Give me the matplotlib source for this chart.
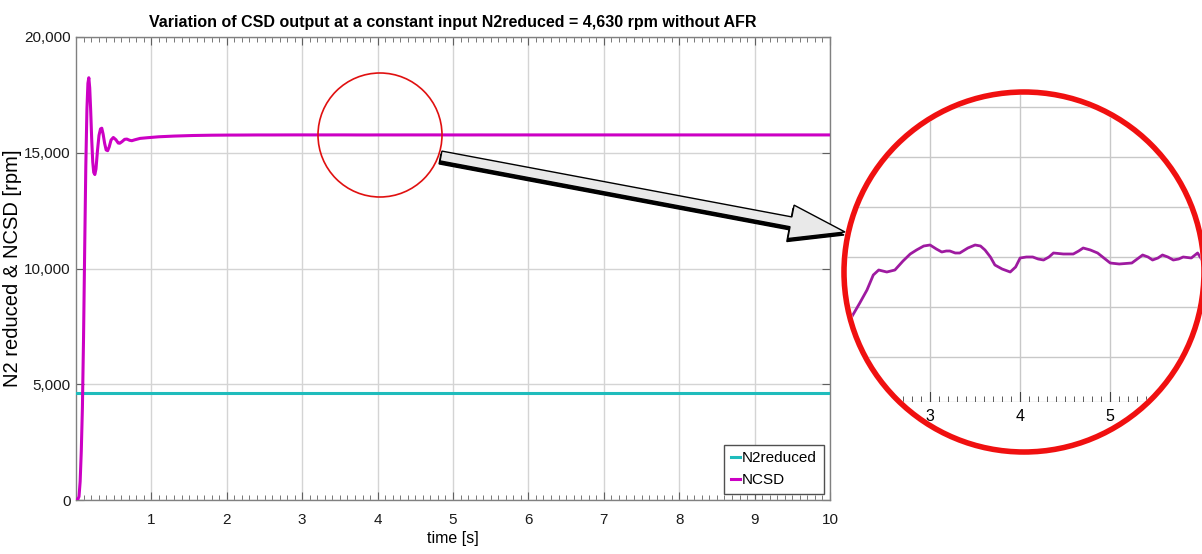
import numpy as np
import matplotlib
matplotlib.use("Agg")
import matplotlib.pyplot as plt
from matplotlib.patches import Ellipse, FancyArrow
from matplotlib.ticker import MultipleLocator, FuncFormatter

# N2reduced input (constant)
n2_time = [0.0, 10.0]
n2_rpm = [4630, 4630]

# NCSD response
ncsd_time = [0.00, 0.02, 0.04, 0.055, 0.07, 0.085, 0.10, 0.115, 0.13, 0.145,
             0.158, 0.170, 0.182, 0.195, 0.208, 0.222, 0.235, 0.250, 0.265, 0.285,
             0.305, 0.325, 0.342, 0.36, 0.38, 0.40, 0.42, 0.44, 0.465, 0.495,
             0.53, 0.56, 0.58, 0.61, 0.645, 0.675, 0.71, 0.74, 0.78, 0.85,
             0.95, 1.10, 1.30, 1.55, 1.80, 2.05,
             2.13, 2.22, 2.30, 2.37, 2.43, 2.52, 2.61, 2.70, 2.78, 2.85, 2.93, 3.00,
             3.07, 3.13, 3.18, 3.22, 3.28, 3.33, 3.42, 3.50, 3.56, 3.61, 3.67, 3.72,
             3.80, 3.89, 3.95, 4.00, 4.07, 4.14, 4.20, 4.26, 4.32, 4.37, 4.48, 4.59,
             4.65, 4.70, 4.78, 4.86, 4.93, 5.00, 5.10, 5.24, 5.30, 5.36, 5.42, 5.47,
             5.53, 5.58, 5.64, 5.70, 5.76, 5.81, 5.90, 5.97, 6.02,
             6.5, 7.0, 8.0, 9.0, 10.0]
ncsd_rpm = [0, 0, 150, 800, 2100, 4000, 7000, 10800, 14400, 16900,
            18000, 18240, 17800, 16800, 15600, 14600, 14150, 14060, 14300, 15100,
            15750, 16030, 16060, 15800, 15400, 15120, 15090, 15250, 15550, 15660,
            15560, 15420, 15410, 15480, 15580, 15590, 15540, 15520, 15560, 15620,
            15650, 15690, 15720, 15745, 15758, 15764,
            15764.0, 15765.4, 15766.7, 15768.2, 15768.7, 15768.5, 15768.7, 15769.6, 15770.3, 15770.7, 15771.1, 15771.2,
            15770.8, 15770.5, 15770.6, 15770.6, 15770.4, 15770.4, 15770.9, 15771.2, 15771.1, 15770.7, 15770.0, 15769.2,
            15768.8, 15768.5, 15769.0, 15769.9, 15770.0, 15770.0, 15769.8, 15769.7, 15770.0, 15770.4, 15770.3, 15770.3,
            15770.6, 15770.9, 15770.7, 15770.4, 15769.9, 15769.4, 15769.3, 15769.4, 15769.8, 15770.2, 15770.0, 15769.7,
            15769.9, 15770.2, 15770.0, 15769.7, 15769.8, 15770.0, 15769.9, 15770.4, 15769.7,
            15770.0, 15770.2, 15769.8, 15770.0, 15770.0]

x_ticks = [1, 2, 3, 4, 5, 6, 7, 8, 9, 10]
y_ticks = [0, 5000, 10000, 15000, 20000]
zoom_ticks = [3, 4, 5]

title = "Variation of CSD output at a constant input N2reduced = 4,630 rpm without AFR"

FONT = ["Liberation Sans", "DejaVu Sans"]
plt.rcParams["font.family"] = FONT
CYAN = "#1fbcbc"
MAGENTA = "#cc00c4"
PURPLE = "#9e1aa0"
GRID = "#d4d4d4"
SPINE = "#808080"

W, H = 1202, 554
fig = plt.figure(figsize=(W / 100, H / 100), dpi=100)
fig.patch.set_facecolor("white")


def fig_rect(x0, y0, x1, y1):
    # pixel box (top-left origin) -> figure fraction rect
    return [x0 / W, 1 - y1 / H, (x1 - x0) / W, (y1 - y0) / H]


# ---- main axes ----
ax = fig.add_axes(fig_rect(76, 37, 830, 500))
ax.plot(n2_time, n2_rpm, color=CYAN, lw=2.2, label="N2reduced", zorder=3)
ax.plot(ncsd_time, ncsd_rpm, color=MAGENTA, lw=2.2, label="NCSD", zorder=3)

ax.set_xlim(0, 10)
ax.set_ylim(0, 20000)
ax.set_xticks(x_ticks)
ax.set_yticks(y_ticks)
ax.xaxis.set_minor_locator(MultipleLocator(0.1))
ax.yaxis.set_major_formatter(FuncFormatter(lambda v, p: f"{int(v):,}"))
ax.grid(True, which="major", color=GRID, lw=1.0)
ax.set_axisbelow(True)
ax.tick_params(axis="x", which="major", direction="in", length=6, top=True,
               color="#606060", labelsize=11, pad=9, labelcolor="#1a1a1a")
ax.tick_params(axis="x", which="minor", direction="in", length=3.5, top=True,
               color="#606060")
ax.tick_params(axis="y", which="major", direction="in", length=6, right=True,
               color="#606060", labelsize=11, pad=4, labelcolor="#1a1a1a")
for s in ax.spines.values():
    s.set_color(SPINE)
    s.set_linewidth(1.0)

ax.set_title(title, fontweight="bold", fontsize=11.5, pad=7)
ax.set_xlabel("time [s]", fontsize=11.5, labelpad=3)
ax.set_ylabel("N2 reduced & NCSD [rpm]", fontsize=14.5, labelpad=1)

leg = ax.legend(loc="lower right", prop={"size": 11},
                handlelength=0.6, handletextpad=0.15, borderpad=0.45,
                labelspacing=0.5, borderaxespad=0.4, fancybox=False,
                framealpha=1.0)
leg.get_frame().set_edgecolor("#505050")
leg.get_frame().set_linewidth(1.0)

# small red circle around the magnified region
fig.patches.append(Ellipse((380 / W, 1 - 135 / H), 124 / W, 124 / H,
                           transform=fig.transFigure, fill=False,
                           edgecolor="#e01010", lw=1.2, zorder=5))

# block arrow with drop shadow (inches)
tail = (441 / 100, (H - 156) / 100)
tip = (845 / 100, (H - 232) / 100)
dx, dy = tip[0] - tail[0], tip[1] - tail[1]
shadow = FancyArrow(tail[0] - 0.01, tail[1] - 0.03, dx, dy, width=0.1, head_width=0.34,
                    head_length=0.55, length_includes_head=True,
                    transform=fig.dpi_scale_trans, facecolor="black",
                    edgecolor="black", lw=1.0, zorder=6)
arrow = FancyArrow(tail[0], tail[1], dx, dy, width=0.1, head_width=0.34,
                   head_length=0.55, length_includes_head=True,
                   transform=fig.dpi_scale_trans, facecolor="#e9e9e9",
                   edgecolor="black", lw=1.0, zorder=7)
fig.patches.extend([shadow, arrow])

# ---- magnified inset inside a red ring ----
cx, cy, r = 1024, 272, 180
clip = Ellipse((cx / W, 1 - cy / H), 2 * (r - 3) / W, 2 * (r - 3) / H,
               transform=fig.transFigure, fill=False, visible=False)
fig.patches.append(clip)

axz = fig.add_axes(fig_rect(845, 80, 1203, 402))
axz.patch.set_visible(False)
axz.set_xlim(2.056, 6.03)
axz.set_ylim(15755.5, 15787.7)
line, = axz.plot(ncsd_time, ncsd_rpm, color=PURPLE, lw=2.0, zorder=3)
line.set_clip_path(clip)

for xv in zoom_ticks:
    g = axz.axvline(xv, color="#c8c8c8", lw=1.0, zorder=1)
    g.set_clip_path(clip)
for yv in np.arange(15760, 15790, 5):
    g = axz.axhline(yv, color="#c8c8c8", lw=1.0, zorder=1)
    g.set_clip_path(clip)

axz.set_xticks(zoom_ticks)
axz.xaxis.set_minor_locator(MultipleLocator(0.1))
axz.set_yticks([])
axz.tick_params(axis="x", which="major", direction="in", length=7,
                color="#404040", labelsize=11.5, pad=5)
axz.tick_params(axis="x", which="minor", direction="in", length=4, color="#404040")
for side in ["left", "right", "top"]:
    axz.spines[side].set_visible(False)
axz.spines["bottom"].set_color("#404040")
axz.spines["bottom"].set_clip_path(clip)
for tk in axz.xaxis.get_major_ticks(len(zoom_ticks)) + axz.xaxis.get_minor_ticks(40):
    for art in (tk.tick1line, tk.tick2line, tk.label1, tk.label2):
        art.set_clip_path(clip)
        art.set_clip_on(True)

fig.patches.append(Ellipse((cx / W, 1 - cy / H), 2 * r / W, 2 * r / H,
                           transform=fig.transFigure, fill=False,
                           edgecolor="#f01010", lw=4.0, zorder=10))

fig.savefig("out.png", dpi=100)
